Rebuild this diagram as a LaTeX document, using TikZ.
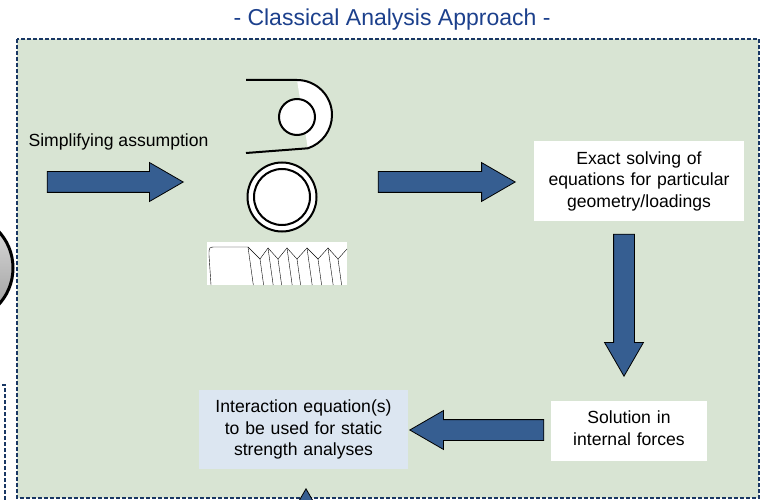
\documentclass[tikz,border=0pt]{standalone}
\usepackage{fontspec}
\setmainfont{Liberation Sans}
\usetikzlibrary{shapes.arrows}
\definecolor{framegreen}{RGB}{216,228,211}
\definecolor{framenavy}{RGB}{25,55,100}
\definecolor{titleblue}{RGB}{28,64,140}
\definecolor{arrowblue}{RGB}{54,94,145}
\definecolor{boxblue}{RGB}{220,230,241}
\tikzstyle{bigarrow} = [draw=black, line width=0.8pt, fill=arrowblue, single arrow, single arrow head extend=9pt, single arrow tip angle=60, single arrow head indent=0pt, inner xsep=0pt, inner ysep=10pt, anchor=tip]
\tikzstyle{textbox} = [fill=white, align=center, inner sep=0pt]
\tikzstyle{dashframe} = [draw=framenavy, line width=2pt, dash pattern=on 4pt off 2pt]
\tikzstyle{sketch} = [draw=black, line width=2pt]

\begin{document}
\begin{tikzpicture}[x=1pt, y=1pt, font=\fontsize{17.6}{21.5}\selectfont]
      \useasboundingbox (0,0) rectangle (761,-500);
      \clip (0,0) rectangle (761,-500);
      \filldraw[dashframe, fill=framegreen] (17,-39) rectangle (759,-498);
      \filldraw[dashframe, fill=white] (-20,-385) rectangle (5,-520);
      \path[draw=black, line width=3pt, top color=black!12, bottom color=black!40] (-41,-268) circle (54);
      \node[font=\fontsize{23}{27}\selectfont, text=titleblue, anchor=base] (title) at (392,-26) {- Classical Analysis Approach -};

      \node[anchor=base west] (assume) at (25,-147) {Simplifying assumption};
      \node[textbox, text width=210pt, minimum height=80pt] (exact) at (639,-181) {Exact solving of\\equations for particular\\geometry/loadings};
      \node[textbox, text width=156pt, minimum height=60pt] (solution) at (629,-431) {Solution in\\internal forces\vspace{6pt}};
      \node[textbox, fill=boxblue, text width=209pt, minimum height=79pt] (interact) at (303.5,-429.5) {Interaction equation(s)\\to be used for static\\strength analyses};

      % lug, washer and bolt
      \fill[white] (297,-80) arc[start angle=90, end angle=-72, radius=35] -- cycle;
      \draw[sketch] (246,-80) -- (297,-80) arc[start angle=90, end angle=-72, radius=35] -- (246,-153);
      \filldraw[sketch, fill=white] (297,-117) circle (18);
      \filldraw[sketch, fill=white] (282,-197) circle (34.5);
      \draw[sketch] (282,-197) circle (28);
      \fill[white] (207,-242) rectangle (347,-285);
      \draw[thin] (211,-285) -- (209,-255) .. controls (209,-247) .. (216,-247) -- (248,-247) -- (260,-259) -- (268,-248) -- (278,-259) -- (287,-248) -- (297,-259) -- (307,-248) -- (318,-259) -- (328,-248) -- (338,-259) -- (347,-249);
      \foreach \x/\y in {248/247, 260/259, 268/248, 278/259, 287/248, 297/259, 307/248, 318/259, 328/248, 338/259}
        \draw[thin] (\x,-\y) -- ({\x+0.14*(285-\y)},-285);

      \node[bigarrow, minimum height=136pt] (arrow1) at (184,-182) {};
      \node[bigarrow, minimum height=137pt] (arrow2) at (516,-182) {};
      \node[bigarrow, minimum height=142pt, rotate=-90] (arrow3) at (624,-377) {};
      \node[bigarrow, minimum height=134pt, rotate=180] (arrow4) at (409,-430) {};
      \node[bigarrow, minimum height=140pt, rotate=90] (arrow5) at (306,-488) {};
\end{tikzpicture}
\end{document}
